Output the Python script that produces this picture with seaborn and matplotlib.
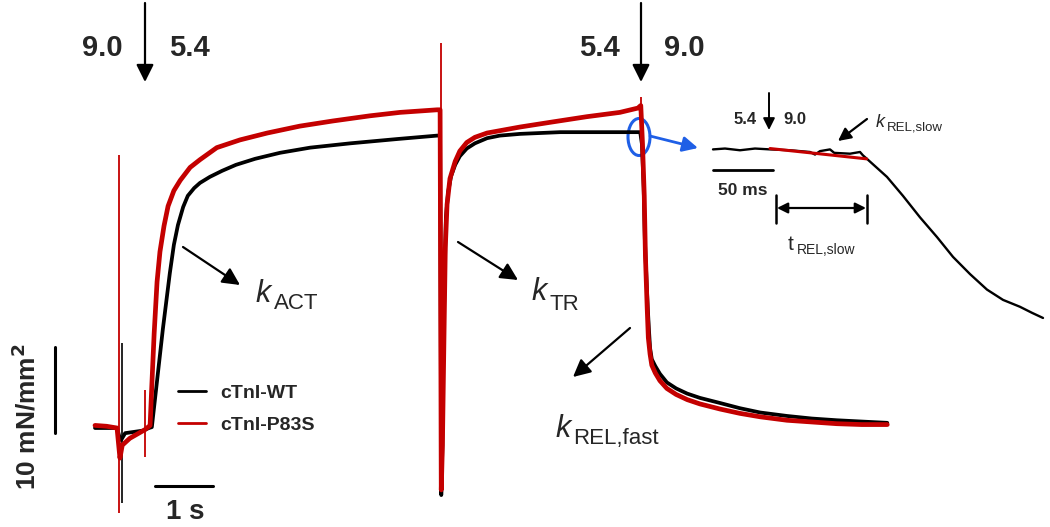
import matplotlib
matplotlib.use("Agg")
import matplotlib.pyplot as plt
import seaborn as sns
from matplotlib.patches import Ellipse

sns.set_style("white")
plt.rcParams['font.family'] = ['Liberation Sans', 'DejaVu Sans']

W, H = 1050, 527

# ---- main force traces: time (s), force (mN/mm2) ----
wt_time = [0.00, 0.38, 0.42, 0.45, 0.52, 0.83, 0.93, 0.98, 1.07, 1.17,
           1.29, 1.36, 1.43, 1.52, 1.60, 1.71, 1.81, 1.98, 2.19, 2.43,
           2.76, 3.19, 3.71, 4.40, 5.21, 5.90, 5.95, 5.97, 5.99, 6.00,
           6.03, 6.05, 6.09, 6.14, 6.21, 6.29, 6.41, 6.55, 6.76, 6.98,
           7.33, 8.02, 9.40, 9.43, 9.46, 9.48, 9.51, 9.53, 9.55, 9.57,
           9.60, 9.66, 9.74, 9.86, 10.02, 10.21, 10.43, 10.78, 11.12, 11.47,
           11.93, 12.36, 12.79, 13.22, 13.66]
wt_force = [0.0, 0.0, -1.0, -1.4, -0.6, -0.3, 0.0, 0.1, 5.5, 11.5,
            18.0, 21.3, 23.6, 25.7, 27.0, 27.9, 28.5, 29.2, 29.9, 30.6,
            31.3, 32.0, 32.6, 33.1, 33.6, 34.0, 34.0, -7.8, -2.0, 7.6,
            18.0, 24.5, 27.5, 29.3, 30.6, 31.6, 32.5, 33.1, 33.7, 34.0,
            34.2, 34.4, 34.4, 33.0, 28.0, 22.0, 17.0, 14.0, 11.5, 9.3,
            8.0, 7.2, 6.3, 5.3, 4.6, 4.0, 3.5, 2.9, 2.3, 1.8,
            1.4, 1.1, 0.9, 0.75, 0.6]

p83s_time = [0.00, 0.20, 0.38, 0.43, 0.47, 0.60, 0.86, 0.95, 0.98, 1.02,
             1.07, 1.12, 1.19, 1.26, 1.36, 1.47, 1.64, 1.81, 2.10, 2.50,
             2.97, 3.53, 4.10, 4.74, 5.26, 5.90, 5.95, 5.97, 5.99, 6.02,
             6.04, 6.07, 6.12, 6.21, 6.29, 6.41, 6.55, 6.76, 7.33, 7.90,
             8.48, 9.05, 9.36, 9.41, 9.44, 9.47, 9.49, 9.52, 9.54, 9.57,
             9.60, 9.66, 9.74, 9.86, 10.02, 10.21, 10.43, 10.78, 11.12, 11.47,
             11.93, 12.36, 12.79, 13.22, 13.66]
p83s_force = [0.3, 0.2, 0.0, -3.5, -2.0, -1.2, -0.2, 0.3, 5.0, 11.0,
              17.0, 20.5, 23.5, 25.8, 27.6, 28.8, 30.3, 31.2, 32.6, 33.5,
              34.3, 35.1, 35.7, 36.3, 36.7, 37.0, 37.0, -7.2, -2.0, 12.0,
              21.0, 26.0, 29.0, 31.0, 32.2, 33.2, 33.8, 34.3, 35.0, 35.6,
              36.2, 36.7, 37.2, 37.5, 33.0, 27.0, 20.0, 14.0, 10.5, 8.6,
              7.3, 6.4, 5.5, 4.6, 3.9, 3.3, 2.8, 2.2, 1.7, 1.3,
              0.9, 0.7, 0.5, 0.4, 0.4]

# solution-change artefacts (thin spikes)
wt_spike_time = [0.46]
wt_spike_low = [-8.7]
wt_spike_high = [9.9]
p83s_spike_time = [0.41, 0.86, 5.97, 9.41]
p83s_spike_low = [-9.9, -3.4, 37.0, 36.0]
p83s_spike_high = [31.7, 4.4, 44.8, 38.5]

# ---- inset: expanded onset of relaxation, time (ms) ----
inset_time = [0, 10, 22.5, 35, 47.5, 64.2, 80.8, 85, 89.2, 97.5,
              101, 114.2, 122.5, 125, 128.3, 145, 158.3, 172.5, 186.7, 200,
              214.2, 228.3, 241.7, 255.8, 265.8, 275]
inset_force = [21.0, 21.1, 20.9, 21.1, 21.0, 20.9, 20.7, 20.4, 20.8, 21.0,
               20.6, 20.5, 20.7, 20.3, 19.9, 17.8, 15.6, 13.1, 10.8, 8.5,
               6.5, 4.7, 3.5, 2.7, 2.0, 1.4]
fit_time = [47.5, 88.0, 128.0]
fit_force = [21.1, 20.5, 19.9]

RED = '#c40000'
BLUE = '#1f5fe6'

fig = plt.figure(figsize=(W / 100, H / 100), dpi=100)
ax = fig.add_axes([0, 0, 1, 1])
ax.set_xlim(-95 / 58, (W - 95) / 58)
ax.set_ylim((428 - H) / 8.6, 428 / 8.6)
ax.axis('off')

ax.vlines(wt_spike_time, wt_spike_low, wt_spike_high, color='black', lw=1.2)
sns.lineplot(x=wt_time, y=wt_force, sort=False, estimator=None,
             color='black', lw=2.7, ax=ax, label='cTnI-WT')
ax.vlines(p83s_spike_time, p83s_spike_low, p83s_spike_high, color=RED, lw=1.3)
sns.lineplot(x=p83s_time, y=p83s_force, sort=False, estimator=None,
             color=RED, lw=3.4, ax=ax, label='cTnI-P83S')

# scale bars (1 s, 10 mN/mm2)
ax.plot([1.03, 2.03], [-6.74, -6.74], color='black', lw=2.2)
ax.plot([-0.69, -0.69], [-0.58, 9.42], color='black', lw=2.2)

handles, labels = ax.get_legend_handles_labels()
leg = ax.legend(handles, labels, loc='center left',
                bbox_to_anchor=(178 / W, 1 - 409 / H),
                bbox_transform=fig.transFigure, frameon=False,
                prop={'weight': 'bold', 'size': 14}, handlelength=1.45,
                handletextpad=0.7, labelspacing=0.75, borderpad=0,
                borderaxespad=0)
for ln in leg.get_lines():
    ln.set_linewidth(2.0)

# inset axes
ax2 = fig.add_axes([0, 0, 1, 1])
ax2.set_xlim(-713 / 1.2, (W - 713) / 1.2)
ax2.set_ylim((330 - H) / 8.6, 330 / 8.6)
ax2.axis('off')
ax2.patch.set_alpha(0)
sns.lineplot(x=inset_time, y=inset_force, sort=False, estimator=None,
             color='black', lw=1.7, ax=ax2)
sns.lineplot(x=fit_time, y=fit_force, sort=False, estimator=None,
             color=RED, lw=2.2, ax=ax2)
ax2.plot([0, 50], [18.6, 18.6], color='black', lw=2.0)


def fp(x, y):
    return (x / W, 1 - y / H)


def txt(x, y, s, size, **kw):
    fig.text(x / W, 1 - y / H, s, fontsize=size, **kw)


def arrow(x0, y0, x1, y1, lw=1.6, hl=0.7, hw=0.35, ms=15, color='black', style='-|>'):
    ax.annotate('', xy=fp(x1, y1), xytext=fp(x0, y0),
                xycoords='figure fraction', textcoords='figure fraction',
                arrowprops=dict(arrowstyle=f'{style},head_length={hl},head_width={hw}',
                                lw=lw, color=color, mutation_scale=ms,
                                shrinkA=0, shrinkB=0))


# pCa labels and solution change arrows
txt(102, 48, '9.0', 21, weight='bold', ha='center', va='center')
txt(189, 48, '5.4', 21, weight='bold', ha='center', va='center')
arrow(145, 3, 145, 82)
txt(599, 48, '5.4', 21, weight='bold', ha='center', va='center')
txt(684, 48, '9.0', 21, weight='bold', ha='center', va='center')
arrow(641, 3, 641, 82)

# rate annotations
arrow(183, 247, 240, 285)
txt(256, 302, 'k', 22, style='italic', va='baseline')
txt(274, 309, 'ACT', 16, va='baseline')

arrow(458, 242, 518, 280)
txt(532, 300, 'k', 22, style='italic', va='baseline')
txt(550, 310, 'TR', 16, va='baseline')

arrow(630, 328, 573, 377)
txt(555, 437, 'k', 22, style='italic', va='baseline')
txt(573, 444, 'REL,fast', 16, va='baseline')

# axis scale labels
txt(185, 512, '1 s', 20, weight='bold', ha='center', va='center')
txt(26, 417, '10 mN/mm$^\\mathbf{2}$', 19, weight='bold', ha='center',
    va='center', rotation=90)

# zoom marker
ax.add_patch(Ellipse(fp(639, 137), 22 / W, 37 / H, transform=fig.transFigure,
                     fill=False, edgecolor=BLUE, lw=2.2))
arrow(650, 136, 698, 148, lw=2.0, color=BLUE, ms=13)

# inset annotations
txt(745, 119, '5.4', 12, weight='bold', ha='center', va='center')
txt(795, 119, '9.0', 12, weight='bold', ha='center', va='center')
arrow(769, 93, 769, 130, lw=1.4, ms=10)
txt(743, 190, '50 ms', 12.5, weight='bold', ha='center', va='center')
arrow(867, 119, 838, 141, lw=1.6, ms=11)
txt(876, 127, 'k', 13, style='italic', va='baseline')
txt(887, 131, 'REL,slow', 9.5, va='baseline')

fig.add_artist(plt.Line2D([776 / W, 776 / W], [1 - 195 / H, 1 - 223 / H],
                          color='black', lw=1.8))
fig.add_artist(plt.Line2D([867 / W, 867 / W], [1 - 195 / H, 1 - 223 / H],
                          color='black', lw=1.8))
arrow(777, 208, 866, 208, lw=1.6, ms=9, style='<|-|>')
txt(788, 250, 't', 15, va='baseline')
txt(797, 254, 'REL,slow', 10, va='baseline')

fig.savefig('out.png', dpi=100)
